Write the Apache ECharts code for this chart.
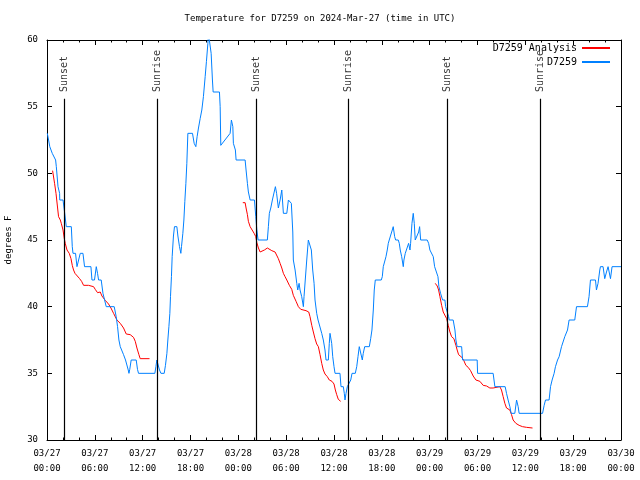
<!DOCTYPE html>
<html><head><meta charset="utf-8">
<script src="https://cdn.jsdelivr.net/npm/echarts@6/dist/echarts.min.js"></script>
<style>html,body{margin:0;padding:0;background:#fff}#c{width:640px;height:480px}</style>
</head><body><div id="c"></div>
<script>
const chartTitle = 'Temperature for D7259 on 2024-Mar-27 (time in UTC)';
const dayLabels = ['03/27', '03/28', '03/29', '03/30'];
const yTicks = [30, 35, 40, 45, 50, 55, 60];

// Observations (hours since 03/27 00:00 UTC, deg F)
const obsHours = [0.04,0.20,0.35,0.54,0.66,0.91,1.08,1.17,1.29,1.38,1.58,1.60,2.01,2.17,2.42,3.05,3.17,3.26,3.58,3.76,4.01,4.17,4.51,4.71,5.51,5.64,5.96,6.18,6.34,6.47,6.80,7.02,7.22,7.43,8.43,8.68,8.85,9.02,9.19,9.44,9.60,9.85,10.03,10.19,10.28,10.38,10.56,11.19,11.35,11.48,13.53,13.66,13.78,13.95,14.11,14.29,14.70,14.86,15.04,15.16,15.29,15.41,15.49,15.61,15.70,15.86,15.99,16.29,16.42,16.62,16.79,16.87,17.04,17.17,17.29,17.42,17.54,17.67,18.25,18.46,18.67,18.83,19.00,19.21,19.42,19.62,19.84,20.00,20.18,20.25,20.46,20.59,20.75,20.84,21.63,21.72,21.80,22.97,23.13,23.31,23.38,23.63,23.72,24.85,24.97,25.14,25.26,25.48,26.02,26.19,26.32,26.48,27.64,27.77,27.89,28.07,28.27,28.48,28.65,28.80,28.95,29.02,29.24,29.45,29.65,30.08,30.28,30.49,30.65,30.83,30.90,31.12,31.33,31.45,31.62,31.74,31.95,32.16,32.24,32.41,32.58,32.78,32.99,33.16,33.33,33.50,33.62,33.83,34.00,34.25,34.46,34.66,34.87,35.00,35.29,35.41,35.50,35.71,35.84,36.00,36.13,36.75,36.88,37.17,37.29,37.38,37.51,37.67,37.84,38.10,38.26,38.67,38.85,39.01,39.17,39.39,39.55,39.67,39.85,40.43,40.60,40.76,40.93,41.05,41.18,41.93,42.06,42.18,42.39,42.52,42.68,42.81,42.93,43.15,43.31,43.43,43.61,43.73,44.06,44.19,44.31,44.49,44.69,44.77,44.94,45.19,45.36,45.53,45.61,45.78,45.94,46.07,46.19,46.44,46.62,46.74,46.87,47.69,47.87,48.03,48.20,48.45,48.62,48.87,49.04,49.16,49.37,49.62,49.91,50.00,50.20,50.38,50.45,50.95,51.17,51.29,51.45,52.01,52.13,53.96,54.01,55.96,56.18,57.47,57.64,57.84,58.06,58.22,58.68,58.90,59.10,59.22,62.16,62.36,62.53,62.98,63.16,63.36,63.61,63.78,64.04,64.24,64.54,64.74,64.95,65.29,65.49,66.20,66.42,67.79,67.99,68.17,68.80,68.92,69.12,69.34,69.42,69.75,69.96,70.18,70.38,70.68,70.88,72.00];
const obsTemps = [53,53,52,52,51.5,51.5,51,50.5,50.5,49,48.5,48,48,47.25,46,46,44.5,44,44,43,43,44,44,43,43,42,42,43,42.5,42,42,41,41,40,40,39.25,38.5,37.5,37,37,36.4,36,36,35.25,35,35.3,36,36,35.3,35,35,35.5,36,36,35.25,35,35,35.6,36.5,37.5,38.5,39.5,40.75,42.25,43.75,45.3,46,46,45.3,44.5,44,44.5,45.5,46.5,47.9,49.25,50.75,53,53,52.25,52,52.75,53.4,54.1,54.75,55.75,57.25,58.4,59.75,60.5,60.5,59,57,56.1,56.1,55,52.1,53,54,53.5,52.25,51.75,51,51,50.25,49.25,48.6,48,48,46.75,45.75,45,45,46,47,47.4,48,48,49,48.5,48.5,47.4,48,48.75,47,47,48,48,47.75,45.6,43.5,42.75,41.75,41.25,41.75,41.25,40.75,40,40.75,40.75,43.5,45,45,44.25,42.75,41.75,40.5,39.5,39,39,38,37.5,36.75,36,36,37.25,38,37.25,36.25,35.5,35,35,34,34,33.5,33,33.5,34,34,34.5,35,35,35.5,36.25,37,37,36,36.5,37,37,37.6,38.25,39.75,41.25,42,42,42.25,43,43,43.75,44.25,44.75,45,45,45.75,46,45.25,45,45,44.75,44.25,43.75,43,43.5,44,44,44.75,44.25,44.75,46.25,47,46.25,45,45,45.6,46,45,45,44.75,44.25,44.1,43.75,43,43,42.25,41.5,41,40.5,40.5,40,40,39.25,39,39,38.25,37.5,37,37,36,36,35,35,34,34,33.5,33,32.5,32,32,33,32.5,32,32,32.6,33,33,34,34.5,35,35.5,36,36.25,37,37,37.75,38.25,39,39,40,40,40.75,42,42,41.25,41.75,42.75,43,43,42.1,42.6,43,42.1,43,43];

// Analysis segments
const ana1Hours = [0.70,0.88,0.95,1.13,1.33,1.45,1.67,1.79,2.01,2.17,2.29,2.51,2.79,3.01,3.17,3.33,3.51,3.76,4.09,4.34,4.59,5.21,5.84,6.05,6.34,6.59,6.68,6.89,7.34,7.72,8.02,8.35,8.77,9.19,9.60,9.94,10.44,10.85,11.07,11.28,11.53,11.69,12.86];
const ana1Temps = [50.2,50.2,49.25,48.5,47.4,46.75,46.5,46.25,45.75,45.1,44.75,44.25,44,43.6,43.1,42.75,42.5,42.4,42.1,41.9,41.6,41.6,41.5,41.3,41.05,41,41.1,40.8,40.45,40.2,39.9,39.5,39,38.75,38.4,37.95,37.9,37.7,37.4,36.9,36.4,36.1,36.1];
const ana2Hours = [24.56,24.85,24.97,25.14,25.26,25.48,25.73,25.98,26.19,26.32,26.52,26.73,26.94,27.27,27.64,27.89,28.20,28.61,28.82,29.02,29.24,29.45,29.65,29.86,30.08,30.40,30.70,30.90,31.24,31.53,31.83,32.49,32.83,32.99,33.21,33.41,33.62,33.83,34.04,34.25,34.46,34.66,34.87,35.16,35.41,35.75,36.00,36.17,36.34,36.54,36.84];
const ana2Temps = [47.8,47.8,47.4,46.9,46.4,46,45.9,45.5,45.25,44.8,44.4,44.1,44.15,44.25,44.4,44.35,44.2,44.1,44,43.6,43.25,42.9,42.5,42.25,42,41.6,41.3,40.85,40.4,40,39.8,39.7,39.6,39.25,38.6,38.1,37.6,37.2,37,36.4,35.75,35.25,34.95,34.75,34.5,34.4,34.2,33.75,33.4,33.05,32.9];
const ana3Hours = [48.70,48.95,49.12,49.29,49.50,49.70,49.95,50.13,50.33,50.54,50.75,51.04,51.29,51.45,51.63,51.79,52.04,52.29,52.54,52.83,53.13,53.46,53.80,54.30,54.71,55.14,55.55,55.96,56.21,56.80,57.01,57.22,57.43,57.64,58.06,58.27,58.47,58.81,59.22,59.65,60.15,60.90];
const ana3Temps = [41.75,41.55,41.25,40.75,40.1,39.6,39.5,39.1,38.6,38.1,37.75,37.6,37.1,36.75,36.4,36.3,36.2,35.95,35.6,35.45,35.2,34.8,34.5,34.4,34.1,34.05,33.9,33.9,34,34,33.75,33.25,32.75,32.4,32.25,31.9,31.5,31.25,31.1,31,30.95,30.9];

// Sun events
const sunHours = [2.20, 13.86, 26.27, 37.79, 50.20, 61.85];
const sunLabels = ['Sunset', 'Sunrise', 'Sunset', 'Sunrise', 'Sunset', 'Sunrise'];

const FONT = 'DejaVu Sans Mono';
const LINE_TOP = 55.6, LABEL_BASE = 56.1;
const zip = (a, b) => a.map((v, i) => [v, b[i]]);

const chart = echarts.init(document.getElementById('c'), null, {renderer: 'canvas'});
const xFmt = v => {
  const d = Math.floor(v / 24), h = Math.round(v - d * 24);
  return dayLabels[d] + '\n' + String(h).padStart(2, '0') + ':00';
};
const axisCommon = {
  axisLine: {show: true, onZero: false, lineStyle: {color: '#000', width: 1}},
  splitLine: {show: false}
};
const anaSeries = (h, t) => ({
  name: 'D7259 Analysis', type: 'line', data: zip(h, t), showSymbol: false, symbol: 'none',
  color: '#ff0000', lineStyle: {color: '#ff0000', width: 1}, silent: true, z: 2
});
chart.setOption({
  animation: false,
  backgroundColor: '#fff',
  title: {text: chartTitle, left: 'center', top: 9,
    textStyle: {fontFamily: FONT, fontSize: 9, fontWeight: 'normal', color: '#000'}},
  legend: {
    data: ['D7259 Analysis', 'D7259'], orient: 'vertical', right: 30, top: 43, align: 'right',
    padding: 0, itemWidth: 28, itemHeight: 2, itemGap: 4, icon: 'rect',
    textStyle: {fontFamily: FONT, fontSize: 10, color: '#000', padding: [0, 0, 0, 0]}
  },
  grid: {left: 47, right: 19, top: 40, bottom: 40, containLabel: false, outerBoundsMode: 'none'},
  xAxis: [
    Object.assign({type: 'value', min: 0, max: 72, interval: 6, position: 'bottom',
      axisTick: {show: true, inside: true, length: 5, lineStyle: {color: '#000'}},
      minorTick: {show: true, splitNumber: 3, length: 2.5, lineStyle: {color: '#000'}},
      axisLabel: {formatter: xFmt, fontFamily: FONT, fontSize: 9, color: '#000', margin: 6, lineHeight: 15}
    }, axisCommon),
    Object.assign({type: 'value', min: 0, max: 72, interval: 6, position: 'top',
      axisTick: {show: true, inside: true, length: 5, lineStyle: {color: '#000'}},
      minorTick: {show: true, splitNumber: 3, length: 2.5, lineStyle: {color: '#000'}},
      axisLabel: {show: false}
    }, axisCommon)
  ],
  yAxis: [
    Object.assign({type: 'value', min: yTicks[0], max: yTicks[yTicks.length - 1], interval: 5, position: 'left',
      name: 'degrees F', nameLocation: 'middle', nameRotate: 90, nameGap: 34,
      nameTextStyle: {fontFamily: FONT, fontSize: 9, color: '#000'},
      axisTick: {show: true, inside: true, length: 5, lineStyle: {color: '#000'}},
      axisLabel: {fontFamily: FONT, fontSize: 9, color: '#000', margin: 9}
    }, axisCommon),
    Object.assign({type: 'value', min: yTicks[0], max: yTicks[yTicks.length - 1], interval: 5, position: 'right',
      axisTick: {show: true, inside: true, length: 5, lineStyle: {color: '#000'}},
      axisLabel: {show: false}
    }, axisCommon)
  ],
  series: [
    anaSeries(ana1Hours, ana1Temps),
    anaSeries(ana2Hours, ana2Temps),
    anaSeries(ana3Hours, ana3Temps),
    {
      name: 'D7259', type: 'line', data: zip(obsHours, obsTemps), showSymbol: false, symbol: 'none',
      color: '#0080ff', lineStyle: {color: '#0080ff', width: 1}, silent: true, z: 3,
      markLine: {
        silent: true, symbol: ['none', 'none'], animation: false,
        lineStyle: {color: '#000', width: 1.2, type: 'solid'},
        label: {show: false},
        data: sunHours.map(h => [{coord: [h, yTicks[0]]}, {coord: [h, LINE_TOP]}])
      }
    },
    {
      name: 'sun', type: 'scatter', symbolSize: 0, silent: true, z: 4,
      data: sunHours.map(h => [h, LABEL_BASE]),
      label: {
        show: true, position: 'inside', rotate: 90, align: 'left', verticalAlign: 'middle',
        fontFamily: FONT, fontSize: 10, color: '#000',
        formatter: p => sunLabels[p.dataIndex]
      }
    }
  ]
});
</script></body></html>
